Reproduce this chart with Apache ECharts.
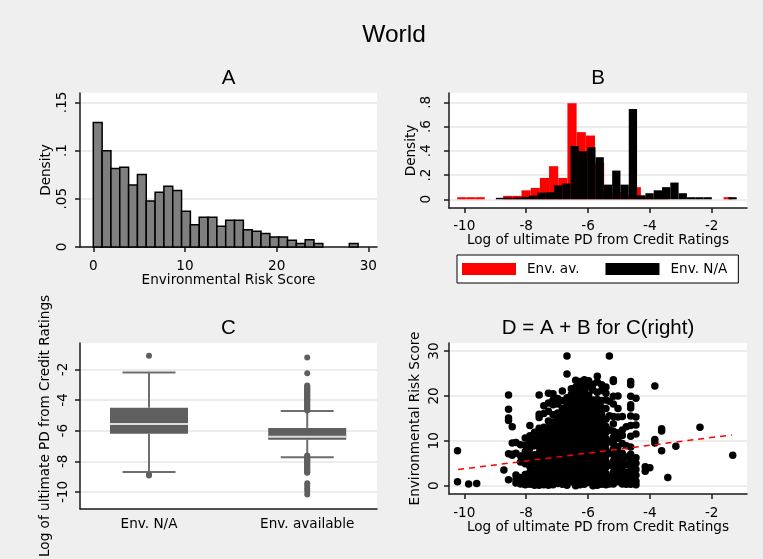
<!DOCTYPE html>
<html>
<head>
<meta charset="utf-8">
<title>World</title>
<script src="https://cdn.jsdelivr.net/npm/echarts@6/dist/echarts.min.js"></script>
<style>
  html, body { margin: 0; padding: 0; background: #efefef; }
  #main { width: 763px; height: 559px; }
</style>
</head>
<body>
<div id="main"></div>
<script>
// ---- A: histogram of the environmental risk score
const aBinStart = 0;
const aBinWidth = 0.963;
const aDensity = [0.129, 0.0998, 0.0814, 0.0828, 0.0644, 0.0752, 0.0478, 0.0568, 0.063, 0.0585,
  0.037, 0.0232, 0.0308, 0.0308, 0.0215, 0.0277, 0.0277, 0.018, 0.0163, 0.0139,
  0.0104, 0.0104, 0.0069, 0.0035, 0.0076, 0.0035, 0, 0, 0, 0.0035];
const aXTicks = [0, 10, 20, 30];
const aYTicks = [0, 0.05, 0.1, 0.15];
const aYLabels = ['0', '.05', '.1', '.15'];

// ---- B: log PD histograms, env. available vs env. N/A
const bAvStart = -10.23;
const bAvWidth = 0.297;
const bAvDensity = [0.017, 0.017, 0.017, 0, 0, 0.028, 0.028, 0.074, 0.094, 0.176,
  0.273, 0.176, 0.793, 0.554, 0.526, 0.3, 0.05, 0.06, 0.03, 0.1,
  0.02, 0.01, 0.01, 0, 0, 0, 0, 0, 0, 0.017];
const bNaStart = -8.98;
const bNaWidth = 0.2686;
const bNaDensity = [0.012, 0.014, 0.014, 0.02, 0.03, 0.055, 0.058, 0.115, 0.13, 0.44,
  0.397, 0.43, 0.347, 0.121, 0.237, 0.121, 0.744, 0.033, 0.05, 0.074,
  0.1, 0.138, 0.05, 0.017, 0.017, 0.017, 0, 0, 0.017];
const bXTicks = [-10, -8, -6, -4, -2];
const bYTicks = [0, 0.2, 0.4, 0.6, 0.8];
const bYLabels = ['0', '.2', '.4', '.6', '.8'];

// ---- C: box plots of log PD
const cNames = ['Env. N/A', 'Env. available'];
// [lower whisker, q1, median, q3, upper whisker]
const cBoxes = [
  [-8.69, -6.20, -5.57, -4.50, -2.21],
  [-7.73, -6.59, -6.39, -5.82, -4.72]
];
const cOutNa = [-1.11, -8.86, -8.93];
const cOutAv = [-1.22, -2.25, -3.06, -3.11, -3.19, -3.25, -3.3, -3.37, -3.44, -3.5, -3.55,
  -3.63, -3.69, -3.74, -3.81, -3.88, -3.93, -3.99, -4.06, -4.12, -4.17, -4.24, -4.31,
  -4.36, -4.43, -4.5, -4.55, -4.62, -4.69, -7.62, -7.67, -7.75, -7.8, -7.86, -7.93,
  -7.99, -8.05, -8.1, -8.17, -8.23, -8.3, -8.35, -8.42, -8.48, -8.54, -8.6, -8.66,
  -8.71, -8.75, -9.43, -9.6, -9.77, -9.94, -10.17];
const cYTicks = [-10, -8, -6, -4, -2];

// ---- D: risk score against log PD, one list of scores per PD value
const dX = [-10.22, -9.86, -9.6, -8.72, -8.57, -8.45, -8.33, -8.18, -8.03, -7.88,
  -7.73, -7.58, -7.43, -7.28, -7.13, -6.98, -6.83, -6.68, -6.54, -6.4,
  -6.26, -6.12, -5.98, -5.84, -5.7, -5.56, -5.42, -5.31, -5.18, -5.03,
  -4.89, -4.76, -4.62, -4.45, -4.15, -4.0, -3.84, -3.62, -3.42, -3.16,
  -2.38, -1.32];
const dY = [
  [7.8, 0.9],
  [0.4],
  [0.5],
  [3.5],
  [20.2, 17.0, 15.1, 14.5, 7.1, 1.3],
  [13.1, 9.5, 7.0, 6.8],
  [9.6, 7.2, 2.4, 1.4, 0.6],
  [9.1, 6.6, 5.3, 1.8, 0.4],
  [10.6, 9.0, 7.6, 6.2, 4.9, 2.5, 1.2, 0.2],
  [13.4, 11.1, 9.8, 8.4, 7.0, 5.7, 4.3, 3.0, 1.6, 0.3],
  [11.9, 10.3, 8.9, 6.9, 5.4, 3.8, 2.4, 1.1, 0.1],
  [20.2, 15.9, 15.2, 12.8, 11.3, 9.9, 8.6, 7.3, 6.0, 4.6, 3.4, 2.1, 0.8, 0.1],
  [17.8, 16.1, 13.0, 11.6, 10.4, 9.0, 7.8, 6.4, 5.2, 3.8, 2.6, 1.3, 0.2],
  [20.6, 18.4, 16.6, 14.4, 12.9, 11.6, 10.2, 9.0, 7.6, 6.4, 5.0, 3.8, 2.4, 1.2, 0.1],
  [20.5, 19.1, 18.0, 15.8, 14.2, 12.8, 11.4, 10.2, 8.9, 7.5, 6.3, 5.0, 3.6, 2.4, 1.0, 0.2],
  [19.4, 18.2, 16.2, 14.8, 13.5, 12.1, 10.9, 9.6, 8.2, 7.0, 5.6, 4.4, 3.1, 1.8, 0.5],
  [21.1, 18.9, 17.2, 15.9, 14.6, 13.2, 12.0, 10.7, 9.3, 8.1, 6.8, 5.4, 4.2, 2.9, 1.6, 0.3],
  [28.9, 24.9, 19.6, 18.3, 17.0, 15.6, 14.4, 13.1, 11.8, 10.4, 9.2, 7.9, 6.6, 5.2, 4.0, 2.7, 1.4, 0.1],
  [21.6, 20.3, 19.0, 17.7, 16.3, 15.1, 13.8, 12.4, 11.2, 9.9, 8.5, 7.3, 6.0, 4.6, 3.4, 2.1, 0.8],
  [23.5, 21.9, 20.6, 19.2, 18.0, 16.7, 15.3, 14.1, 12.8, 11.4, 10.2, 8.9, 7.5, 6.3, 5.0, 3.6, 2.4, 1.1, 0.0],
  [23.2, 22.0, 20.7, 19.3, 18.1, 16.8, 15.4, 14.2, 12.9, 11.5, 10.3, 9.0, 7.6, 6.4, 5.1, 3.7, 2.5, 1.2, 0.2],
  [23.6, 22.3, 21.0, 19.6, 18.4, 17.1, 15.7, 14.5, 13.2, 11.8, 10.6, 9.3, 7.9, 6.7, 5.4, 4.0, 2.8, 1.5, 0.3],
  [23.4, 22.0, 20.2, 18.9, 17.5, 16.3, 15.0, 13.6, 12.4, 11.1, 9.7, 8.5, 7.2, 5.8, 4.6, 3.3, 1.9, 0.7],
  [22.6, 21.3, 19.1, 17.8, 16.4, 15.2, 13.9, 12.5, 11.3, 10.0, 8.6, 7.4, 6.1, 4.7, 3.5, 2.2, 0.9, 0.0],
  [24.4, 23.1, 20.8, 19.2, 17.9, 16.5, 15.3, 14.0, 12.6, 11.4, 10.1, 8.7, 7.5, 6.2, 4.8, 3.6, 2.3, 1.0, 0.1],
  [22.5, 21.2, 19.0, 17.4, 15.9, 14.6, 13.2, 12.0, 10.7, 9.3, 8.1, 6.8, 5.4, 4.2, 2.9, 1.5, 0.3],
  [22.0, 20.6, 19.1, 17.2, 14.8, 13.2, 11.9, 10.5, 9.3, 8.0, 6.6, 5.4, 4.1, 2.7, 1.5, 0.2],
  [28.9, 18.8, 15.6, 12.4, 9.8, 7.2, 4.6, 2.0, 0.4],
  [23.6, 23.2, 19.9, 18.2, 15.4, 13.8, 12.1, 10.8, 9.4, 8.2, 6.9, 5.5, 4.3, 3.0, 1.6, 0.4],
  [20.0, 17.2, 15.3, 11.8, 10.5, 8.7, 7.4, 6.0, 4.8, 3.5, 2.1, 0.9],
  [15.4, 12.4, 11.2, 9.4, 7.2, 5.6, 4.3, 2.9, 1.7, 0.4],
  [13.1, 8.9, 6.4, 4.7, 3.0, 1.6, 0.3],
  [23.2, 22.5, 19.9, 18.0, 17.3, 15.5, 13.4, 11.0, 8.6, 7.0, 5.5, 4.2, 2.9, 1.6, 0.3],
  [19.5, 15.3, 13.5, 11.5, 6.2, 5.0, 3.6, 2.3, 1.0, 0.2],
  [4.2, 3.2],
  [4.0],
  [22.2, 10.3, 9.5],
  [12.7, 12.2, 7.8],
  [1.8],
  [8.8],
  [13.0],
  [6.8]
];
// fitted line end points
const dRegX = [-10.2, -1.35];
const dRegY = [3.6, 11.3];
const dXTicks = [-10, -8, -6, -4, -2];
const dYTicks = [0, 10, 20, 30];

// ------------------------------------------------------------
const small = { fontFamily: 'DejaVu Sans', fontSize: 13.6, color: '#000' };
const axisColor = '#1a1a1a';
const gridColor = '#e6e6e6';

function xAxis(gridIndex, min, max, ticks, margin, name, nameGap) {
  return {
    type: 'value', gridIndex: gridIndex, min: min, max: max,
    axisLine: { show: true, onZero: false, lineStyle: { color: axisColor, width: 1.5 } },
    axisTick: { show: true, length: 5, customValues: ticks, lineStyle: { color: axisColor, width: 1.5 } },
    axisLabel: Object.assign({ customValues: ticks, margin: margin }, small),
    splitLine: { show: false },
    name: name, nameLocation: 'middle', nameGap: nameGap, nameTextStyle: small
  };
}

function yAxis(gridIndex, min, max, ticks, labels, margin, name, nameGap) {
  return {
    type: 'value', gridIndex: gridIndex, min: min, max: max,
    axisLine: { show: true, onZero: false, lineStyle: { color: axisColor, width: 1.5 } },
    axisTick: { show: true, length: 5, customValues: ticks, lineStyle: { color: axisColor, width: 1.5 } },
    axisLabel: Object.assign({
      customValues: ticks, margin: margin, rotate: 90,
      formatter: function (v) {
        const i = ticks.indexOf(v);
        return labels && i >= 0 ? labels[i] : String(v);
      }
    }, small),
    splitLine: { show: true, lineStyle: { color: gridColor, width: 1.5 } },
    name: name, nameLocation: 'middle', nameGap: nameGap, nameTextStyle: small
  };
}

function binData(start, width, dens) {
  return dens.map(function (h, i) { return [start + i * width, start + (i + 1) * width, h]; });
}

function renderBins(fill, stroke, lw) {
  return function (params, api) {
    const h = api.value(2);
    if (!h) return null;
    const p0 = api.coord([api.value(0), h]);
    const p1 = api.coord([api.value(1), 0]);
    return {
      type: 'rect',
      shape: { x: p0[0], y: p0[1], width: p1[0] - p0[0], height: p1[1] - p0[1] },
      style: { fill: fill, stroke: stroke, lineWidth: lw }
    };
  };
}

function renderBox(params, api) {
  const x = api.value(0);
  const lo = api.coord([x, api.value(1)]);
  const q1 = api.coord([x, api.value(2)]);
  const md = api.coord([x, api.value(3)]);
  const q3 = api.coord([x, api.value(4)]);
  const hi = api.coord([x, api.value(5)]);
  const cx = lo[0], bw = 78, cw = 53;
  const line = { stroke: '#6e6e6e', lineWidth: 2 };
  return {
    type: 'group',
    children: [
      { type: 'line', shape: { x1: cx, y1: hi[1], x2: cx, y2: q3[1] }, style: line },
      { type: 'line', shape: { x1: cx, y1: q1[1], x2: cx, y2: lo[1] }, style: line },
      { type: 'line', shape: { x1: cx - cw / 2, y1: hi[1], x2: cx + cw / 2, y2: hi[1] }, style: line },
      { type: 'line', shape: { x1: cx - cw / 2, y1: lo[1], x2: cx + cw / 2, y2: lo[1] }, style: line },
      { type: 'rect', shape: { x: cx - bw / 2, y: q3[1], width: bw, height: q1[1] - q3[1] }, style: { fill: '#5f5f5f' } },
      { type: 'line', shape: { x1: cx - bw / 2, y1: md[1], x2: cx + bw / 2, y2: md[1] }, style: { stroke: '#dcdcdc', lineWidth: 2 } }
    ]
  };
}

const dPoints = [];
dX.forEach(function (x, i) {
  dY[i].forEach(function (y) { dPoints.push([x, y]); });
});

const chart = echarts.init(document.getElementById('main'));
chart.setOption({
  backgroundColor: '#efefef',
  animation: false,
  graphic: [
    { type: 'text', x: 394, y: 35, style: { text: 'World', font: '24.5px "Liberation Sans"', fill: '#000', textAlign: 'center', textVerticalAlign: 'middle' } },
    { type: 'text', x: 228.5, y: 78.5, style: { text: 'A', font: '20.5px "Liberation Sans"', fill: '#000', textAlign: 'center', textVerticalAlign: 'middle' } },
    { type: 'text', x: 598, y: 78.5, style: { text: 'B', font: '20.5px "Liberation Sans"', fill: '#000', textAlign: 'center', textVerticalAlign: 'middle' } },
    { type: 'text', x: 228.5, y: 328.5, style: { text: 'C', font: '20.5px "Liberation Sans"', fill: '#000', textAlign: 'center', textVerticalAlign: 'middle' } },
    { type: 'text', x: 598, y: 328.5, style: { text: 'D = A + B for C(right)', font: '20.5px "Liberation Sans"', fill: '#000', textAlign: 'center', textVerticalAlign: 'middle' } }
  ],
  legend: {
    data: ['Env. av.', 'Env. N/A'],
    left: 457, top: 255,
    icon: 'rect', itemWidth: 54, itemHeight: 12, itemGap: 26,
    padding: [7, 11, 7, 5],
    backgroundColor: '#fff', borderColor: '#000', borderWidth: 1, borderRadius: 0,
    selectedMode: false,
    textStyle: Object.assign({ padding: [0, 0, 0, 6] }, small)
  },
  grid: [
    { left: 80, top: 93, width: 297, height: 154, show: true, backgroundColor: '#fff', borderWidth: 0 },
    { left: 449, top: 93, width: 298, height: 115, show: true, backgroundColor: '#fff', borderWidth: 0 },
    { left: 80, top: 343, width: 297, height: 170, show: true, backgroundColor: '#fff', borderWidth: 0 },
    { left: 449, top: 343, width: 298, height: 151, show: true, backgroundColor: '#fff', borderWidth: 0 }
  ],
  xAxis: [
    xAxis(0, -1.45, 30.95, aXTicks, 12, 'Environmental Risk Score', 21),
    xAxis(1, -10.495, -0.859, bXTicks, 11, 'Log of ultimate PD from Credit Ratings', 22),
    {
      type: 'value', gridIndex: 2, min: 0.564, max: 2.441,
      axisLine: { show: true, onZero: false, lineStyle: { color: axisColor, width: 1.5 } },
      axisTick: { show: false, customValues: [1, 2] },
      axisLabel: Object.assign({
        customValues: [1, 2], margin: 8.5,
        formatter: function (v) { return cNames[Math.round(v) - 1]; }
      }, small),
      splitLine: { show: false }
    },
    xAxis(3, -10.495, -0.859, dXTicks, 12, 'Log of ultimate PD from Credit Ratings', 24)
  ],
  yAxis: [
    yAxis(0, 0, 0.1597, aYTicks, aYLabels, 10.5, 'Density', 27),
    yAxis(1, -0.072, 0.877, bYTicks, bYLabels, 16, 'Density', 29.5),
    yAxis(2, -11.1, -0.28, cYTicks, null, 9.5, 'Log of ultimate PD from Credit Ratings', 28),
    yAxis(3, -1.85, 31.78, dYTicks, null, 8, 'Environmental Risk Score', 27)
  ],
  series: [
    {
      type: 'custom', name: 'A', xAxisIndex: 0, yAxisIndex: 0,
      data: binData(aBinStart, aBinWidth, aDensity),
      encode: { x: [0, 1], y: 2 },
      renderItem: renderBins('#7f7f7f', '#000', 1.5)
    },
    {
      type: 'custom', name: 'Env. av.', xAxisIndex: 1, yAxisIndex: 1,
      itemStyle: { color: '#ff0000' },
      data: binData(bAvStart, bAvWidth, bAvDensity),
      encode: { x: [0, 1], y: 2 },
      renderItem: renderBins('#ff0000', null, 0)
    },
    {
      type: 'custom', name: 'Env. N/A', xAxisIndex: 1, yAxisIndex: 1,
      itemStyle: { color: '#000000' },
      data: binData(bNaStart, bNaWidth, bNaDensity),
      encode: { x: [0, 1], y: 2 },
      renderItem: renderBins('#000000', null, 0)
    },
    {
      type: 'custom', name: 'C', xAxisIndex: 2, yAxisIndex: 2,
      data: cBoxes.map(function (b, i) { return [i + 1].concat(b); }),
      encode: { x: 0, y: [1, 2, 3, 4, 5] },
      renderItem: renderBox
    },
    {
      type: 'scatter', xAxisIndex: 2, yAxisIndex: 2,
      symbolSize: 6, itemStyle: { color: '#5f5f5f', opacity: 1, borderWidth: 0 },
      data: cOutNa.map(function (v) { return [1, v]; }).concat(cOutAv.map(function (v) { return [2, v]; }))
    },
    {
      type: 'scatter', xAxisIndex: 3, yAxisIndex: 3,
      symbolSize: 7.5, itemStyle: { color: '#000', opacity: 1, borderWidth: 0 },
      data: dPoints
    },
    {
      type: 'line', xAxisIndex: 3, yAxisIndex: 3,
      symbol: 'none',
      lineStyle: { color: '#ff0000', width: 1.5, type: [6, 5] },
      data: dRegX.map(function (x, i) { return [x, dRegY[i]]; })
    }
  ]
});
</script>
</body>
</html>
